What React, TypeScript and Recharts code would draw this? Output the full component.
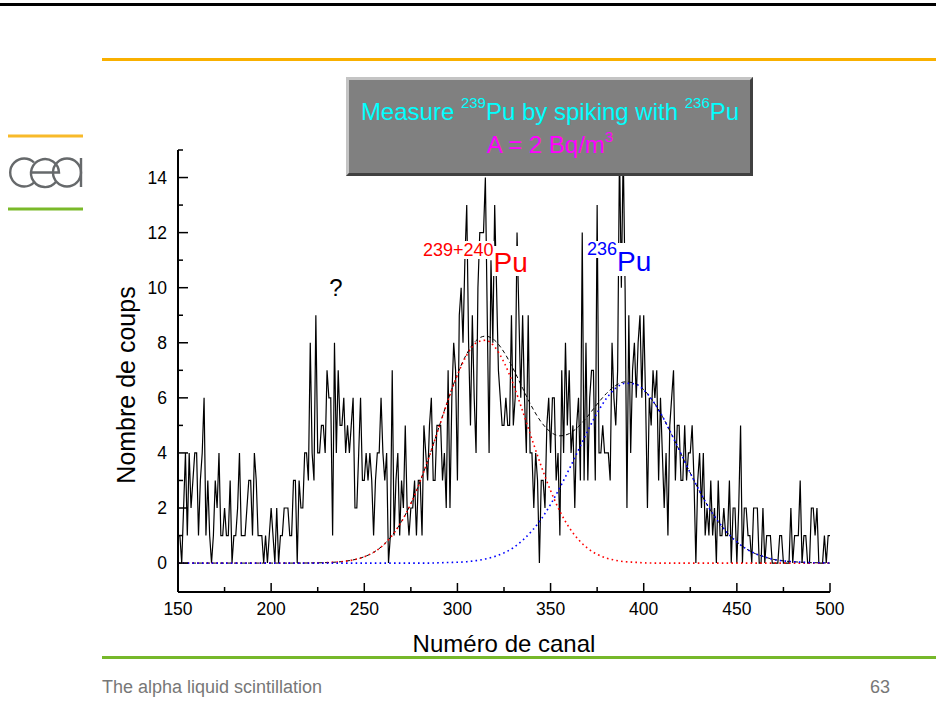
import { ComposedChart, Line, XAxis, YAxis } from 'recharts'

const FONT = '"Liberation Sans", Arial, Helvetica, sans-serif'

// counts per channel, channel 150 .. 500
const firstChannel = 150
const counts = [
  1, 1, 0, 2, 4, 1, 4, 2, 3, 4,
  4, 1, 3, 4, 6, 1, 3, 1, 0, 1,
  3, 2, 4, 1, 1, 2, 1, 1, 3, 0,
  1, 1, 2, 4, 1, 1, 1, 2, 3, 3,
  1, 4, 3, 1, 1, 1, 0, 1, 0, 1,
  2, 1, 0, 2, 0, 1, 1, 2, 2, 2,
  1, 1, 3, 3, 0, 3, 2, 2, 4, 4,
  3, 8, 4, 3, 9, 4, 4, 5, 5, 4,
  7, 6, 6, 1, 8, 4, 7, 5, 5, 6,
  4, 5, 4, 5, 6, 2, 2, 4, 6, 3,
  3, 4, 3, 4, 3, 1, 3, 4, 4, 6,
  4, 3, 4, 0, 1, 7, 1, 3, 4, 1,
  3, 2, 5, 2, 1, 2, 2, 3, 1, 3,
  3, 1, 5, 4, 3, 5, 6, 3, 3, 5,
  5, 5, 3, 4, 2, 7, 2, 6, 8, 7,
  3, 9, 10, 8, 11, 13, 8, 5, 9, 6,
  4, 10, 12, 12, 12, 14, 9, 4, 11, 8,
  13, 10, 7, 6, 5, 5, 6, 5, 5, 9,
  5, 6, 12, 9, 6, 9, 6, 4, 9, 4,
  4, 2, 4, 3, 0, 3, 3, 2, 5, 6,
  4, 6, 6, 3, 4, 1, 7, 4, 8, 5,
  7, 4, 5, 2, 5, 6, 3, 12, 3, 8,
  3, 6, 7, 7, 3, 13, 4, 4, 5, 4,
  4, 4, 3, 8, 6, 5, 7, 15, 10, 15,
  10, 2, 9, 4, 7, 8, 6, 8, 9, 6,
  9, 6, 2, 6, 5, 7, 6, 7, 3, 6,
  4, 2, 4, 1, 5, 6, 7, 3, 5, 5,
  3, 3, 5, 3, 4, 4, 5, 3, 0, 3,
  4, 2, 4, 1, 2, 1, 3, 1, 2, 0,
  3, 1, 1, 2, 1, 1, 3, 0, 2, 2,
  0, 2, 5, 0, 2, 2, 1, 1, 0, 2,
  2, 2, 0, 0, 2, 0, 1, 1, 1, 0,
  0, 0, 0, 1, 1, 0, 0, 0, 0, 2,
  0, 1, 1, 1, 3, 0, 1, 1, 0, 0,
  2, 2, 1, 2, 0, 0, 0, 1, 0, 1, 1,
]

// fitted peaks read every 5 channels
const fitChannels = [
  150, 155, 160, 165, 170, 175, 180, 185, 190, 195, 200, 205, 210, 215, 220, 225, 230, 235,
  240, 245, 250, 255, 260, 265, 270, 275, 280, 285, 290, 295, 300, 305, 310, 315, 320, 325,
  330, 335, 340, 345, 350, 355, 360, 365, 370, 375, 380, 385, 390, 395, 400, 405, 410, 415,
  420, 425, 430, 435, 440, 445, 450, 455, 460, 465, 470, 475, 480, 485, 490, 495, 500,
]
const fit239 = [
  0, 0, 0, 0, 0, 0, 0, 0, 0, 0,
  0, 0, 0, 0,
  0.004, 0.008, 0.018, 0.036, 0.07, 0.13, 0.23, 0.39, 0.64, 1.01,
  1.51, 2.16, 2.97, 3.9, 4.91, 5.92, 6.83, 7.55, 7.99, 8.09,
  7.85, 7.29, 6.49, 5.52, 4.5, 3.52, 2.63, 1.88, 1.29, 0.85,
  0.53, 0.32, 0.18, 0.1, 0.05, 0.03, 0.01,
  0, 0, 0, 0, 0, 0, 0, 0, 0, 0, 0, 0, 0, 0, 0, 0, 0, 0, 0, 0,
]
const fit236 = [
  0, 0, 0, 0, 0, 0, 0, 0, 0, 0, 0, 0, 0, 0, 0, 0, 0, 0, 0, 0, 0, 0, 0, 0, 0, 0, 0, 0,
  0.01, 0.02, 0.03, 0.05, 0.09, 0.15, 0.24, 0.37, 0.56, 0.83,
  1.17, 1.6, 2.13, 2.74, 3.41, 4.11, 4.81, 5.45, 5.98, 6.35,
  6.53, 6.51, 6.29, 5.88, 5.33, 4.67, 3.97, 3.27, 2.61, 2.01,
  1.51, 1.09, 0.77, 0.52, 0.34, 0.22, 0.13, 0.08, 0.05, 0.03,
  0.015, 0.01, 0,
]
const fitSum = [
  0, 0, 0, 0, 0, 0, 0, 0, 0, 0, 0, 0, 0, 0,
  0.004, 0.008, 0.018, 0.036, 0.07, 0.13, 0.23, 0.39, 0.64, 1.01,
  1.51, 2.16, 2.97, 3.9, 4.92, 5.94, 6.86, 7.6, 8.08, 8.24,
  8.09, 7.66, 7.05, 6.35, 5.67, 5.12, 4.76, 4.62, 4.7, 4.96,
  5.34, 5.77, 6.16, 6.45, 6.58, 6.54, 6.3,
  5.88, 5.33, 4.67, 3.97, 3.27, 2.61, 2.01, 1.51, 1.09, 0.77,
  0.52, 0.34, 0.22, 0.13, 0.08, 0.05, 0.03, 0.015, 0.01, 0,
]

const xTicks = [150, 175, 200, 225, 250, 275, 300, 325, 350, 375, 400, 425, 450, 475, 500]
const yTicks = [0, 1, 2, 3, 4, 5, 6, 7, 8, 9, 10, 11, 12, 13, 14, 15]

const spectrum = counts.map((n, i) => ({ ch: firstChannel + i, n }))
const fits = fitChannels.map((ch, i) => ({ ch, pu239: fit239[i], pu236: fit236[i], sum: fitSum[i] }))

function XTick(props: any) {
  const { x, y, payload } = props
  const major = payload.value % 50 === 0
  return (
    <g>
      <line x1={x} x2={x} y1={y} y2={y - (major ? 9 : 5)} stroke="#000" strokeWidth={1.5} />
      {major && (
        <text x={x} y={y + 23} textAnchor="middle" fontSize={17.5} fontFamily={FONT} fill="#000">
          {payload.value}
        </text>
      )}
    </g>
  )
}

function YTick(props: any) {
  const { x, y, payload } = props
  const major = payload.value % 2 === 0
  return (
    <g>
      <line x1={x} x2={x + (major ? 10 : 5)} y1={y} y2={y} stroke="#000" strokeWidth={1.5} />
      {major && (
        <text x={x - 11} y={y + 6} textAnchor="end" fontSize={17.5} fontFamily={FONT} fill="#000">
          {payload.value}
        </text>
      )}
    </g>
  )
}

function Overlay() {
  return (
    <svg width={936} height={719} style={{ position: 'absolute', left: 0, top: 0, pointerEvents: 'none' }} fontFamily={FONT}>
      {/* slide frame */}
      <rect x={0} y={3} width={936} height={3} fill="#000" />
      <rect x={102} y={58} width={834} height={3} fill="#F9B000" />
      <rect x={8} y={134.5} width={75} height={3} fill="#F8BA2A" />
      <rect x={8} y={207.5} width={75} height={3} fill="#7AB929" />
      <rect x={102} y={656} width={834} height={3} fill="#76B82A" />
      <text x={102} y={693} fontSize={18} fill="#777">The alpha liquid scintillation</text>
      <text x={890} y={693} fontSize={18} fill="#777" textAnchor="end">63</text>

      {/* cea logo */}
      <g fill="none" stroke="#66696b" strokeWidth={2.4}>
        <path d="M 34 162.5 A 14 14 0 1 0 34 182.5" />
        <path d="M 31 172.5 H 59 A 14 14 0 1 0 55.8 182" />
        <circle cx={67} cy={172.5} r={14} />
        <line x1={81} x2={81} y1={158} y2={187} />
      </g>

      {/* title box */}
      <rect x={346} y={77} width={407} height={99} fill="#808080" />
      <path d="M346 77 H753 L750 80 H349 V173 L346 176 Z" fill="#c4c4c4" />
      <path d="M753 77 V176 H346 L349 173 H750 V80 Z" fill="#404040" />
      <text x={550} y={120} textAnchor="middle" fontSize={24} fill="#00FFFF">
        Measure <tspan fontSize={15} dy={-12}>239</tspan>
        <tspan dy={12}>Pu by spiking with </tspan>
        <tspan fontSize={15} dy={-12}>236</tspan>
        <tspan dy={12}>Pu</tspan>
      </text>
      <text x={550} y={153} textAnchor="middle" fontSize={24} fill="#FF00FF">
        A = 2 Bq/m<tspan fontSize={15} dy={-11}>3</tspan>
      </text>

      {/* peak labels */}
      <rect x={421} y={241} width={73} height={18} fill="#fff" />
      <rect x={492} y={246} width={39} height={30} fill="#fff" />
      <text x={423} y={256} fontSize={18} fill="#FF0000">
        239+240<tspan fontSize={28} dy={16}>Pu</tspan>
      </text>
      <rect x={585} y={241} width={33} height={17} fill="#fff" />
      <rect x={616} y={243} width={40} height={33} fill="#fff" />
      <text x={587} y={255} fontSize={18} fill="#0000FF">
        236<tspan fontSize={28} dy={16}>Pu</tspan>
      </text>
      <text x={336} y={296} fontSize={24} textAnchor="middle" fill="#000">?</text>

      {/* axis titles */}
      <text x={504} y={652} fontSize={24} textAnchor="middle" fill="#000">Numéro de canal</text>
      <text x={135} y={385} fontSize={25} textAnchor="middle" fill="#000" transform="rotate(-90 135 385)">
        Nombre de coups
      </text>
    </svg>
  )
}

export default function App() {
  return (
    <div style={{ position: 'absolute', left: 0, top: 0, width: 936, height: 719, background: '#fff', overflow: 'hidden' }}>
      <ComposedChart width={936} height={719} data={spectrum} margin={{ top: 150, right: 106, bottom: 97, left: 118 }}>
        <XAxis
          type="number"
          dataKey="ch"
          domain={[150, 500]}
          ticks={xTicks}
          interval={0}
          tickSize={0}
          tickMargin={0}
          tickLine={false}
          tick={(p: any) => <XTick {...p} />}
          axisLine={{ stroke: '#000', strokeWidth: 2 }}
          height={30}
          allowDataOverflow
        />
        <YAxis
          type="number"
          domain={[-1.05, 15]}
          ticks={yTicks}
          interval={0}
          tickSize={0}
          tickMargin={0}
          tickLine={false}
          tick={(p: any) => <YTick {...p} />}
          axisLine={{ stroke: '#000', strokeWidth: 2 }}
          width={60}
          allowDataOverflow
        />
        <Line type="linear" dataKey="n" stroke="#000" strokeWidth={1.2} dot={false} isAnimationActive={false} />
        <Line data={fits} type="monotone" dataKey="sum" stroke="#000" strokeWidth={1} strokeDasharray="4 3" dot={false} isAnimationActive={false} />
        <Line data={fits} type="monotone" dataKey="pu239" stroke="#FF0000" strokeWidth={1.6} strokeDasharray="1.6 3.2" dot={false} isAnimationActive={false} />
        <Line data={fits} type="monotone" dataKey="pu236" stroke="#0000FF" strokeWidth={1.6} strokeDasharray="1.6 3.2" dot={false} isAnimationActive={false} />
      </ComposedChart>
      <Overlay />
    </div>
  )
}
